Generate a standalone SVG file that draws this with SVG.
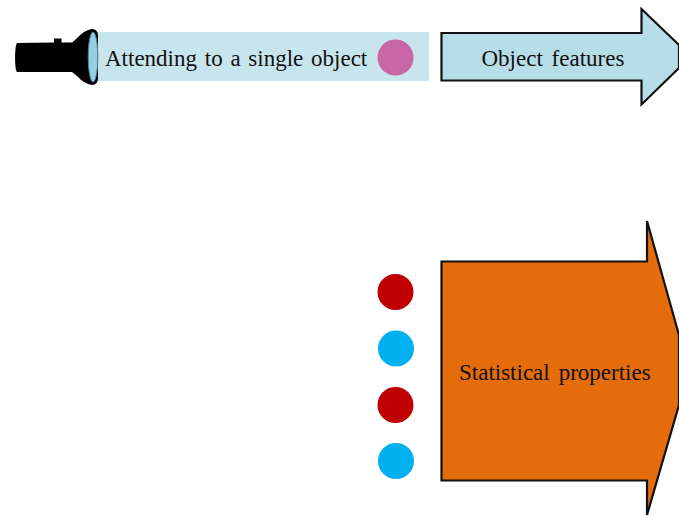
<svg xmlns="http://www.w3.org/2000/svg" width="679" height="516" viewBox="0 0 679 516">
<style>
text{font-family:"Liberation Serif","Times New Roman",serif;font-size:23px;fill:#111;word-spacing:3px}
.arrow{stroke:#111;stroke-width:2.2;stroke-linejoin:miter}
.red{fill:#c00000}.blue{fill:#00b0f0}
</style>
<rect width="679" height="516" fill="#fff"/>
<g id="beam">
<rect x="92" y="32" width="337" height="49" fill="#c8e5ee"/>
<text x="105" y="66" style="word-spacing:2px">Attending to a single object</text>
</g>
<g id="flashlight">
<path d="M17 43L54 42.500V38.500H61.500V42.500L72 42.500C78 38 83 30 92 29C96 29 98 32 98 36V78C98 82 96 85 92 85C83 84 78 76 72 72L17 72C14.500 70 14.500 45 17 43Z" fill="#000"/>
<ellipse cx="93" cy="57" rx="4.800" ry="25" fill="#92cfe0" stroke="#4e7f8e" stroke-width="1"/>
</g>
<circle id="pink-dot" cx="395.500" cy="57.500" r="18" fill="#c966a5"/>
<g id="object-features">
<path class="arrow" d="M441.500 33H641.500V9L679 45V68L641.500 104.500V80.500H441.500Z" fill="#b7dde8"/>
<text x="481.500" y="66">Object features</text>
</g>
<g id="statistical-properties">
<path class="arrow" d="M441.500 261.500H647V221L679 335V405L647 515V480.500H441.500Z" fill="#e46c0a"/>
<text x="459" y="380" style="word-spacing:3.200px">Statistical properties</text>
</g>
<g id="dot-1"><circle class="red" cx="395.500" cy="292" r="18"/></g>
<g id="dot-2"><circle class="blue" cx="396" cy="348.500" r="18"/></g>
<g id="dot-3"><circle class="red" cx="395.500" cy="405" r="18"/></g>
<g id="dot-4"><circle class="blue" cx="396" cy="461" r="18"/></g>
<g id="connectors"/>
</svg>
